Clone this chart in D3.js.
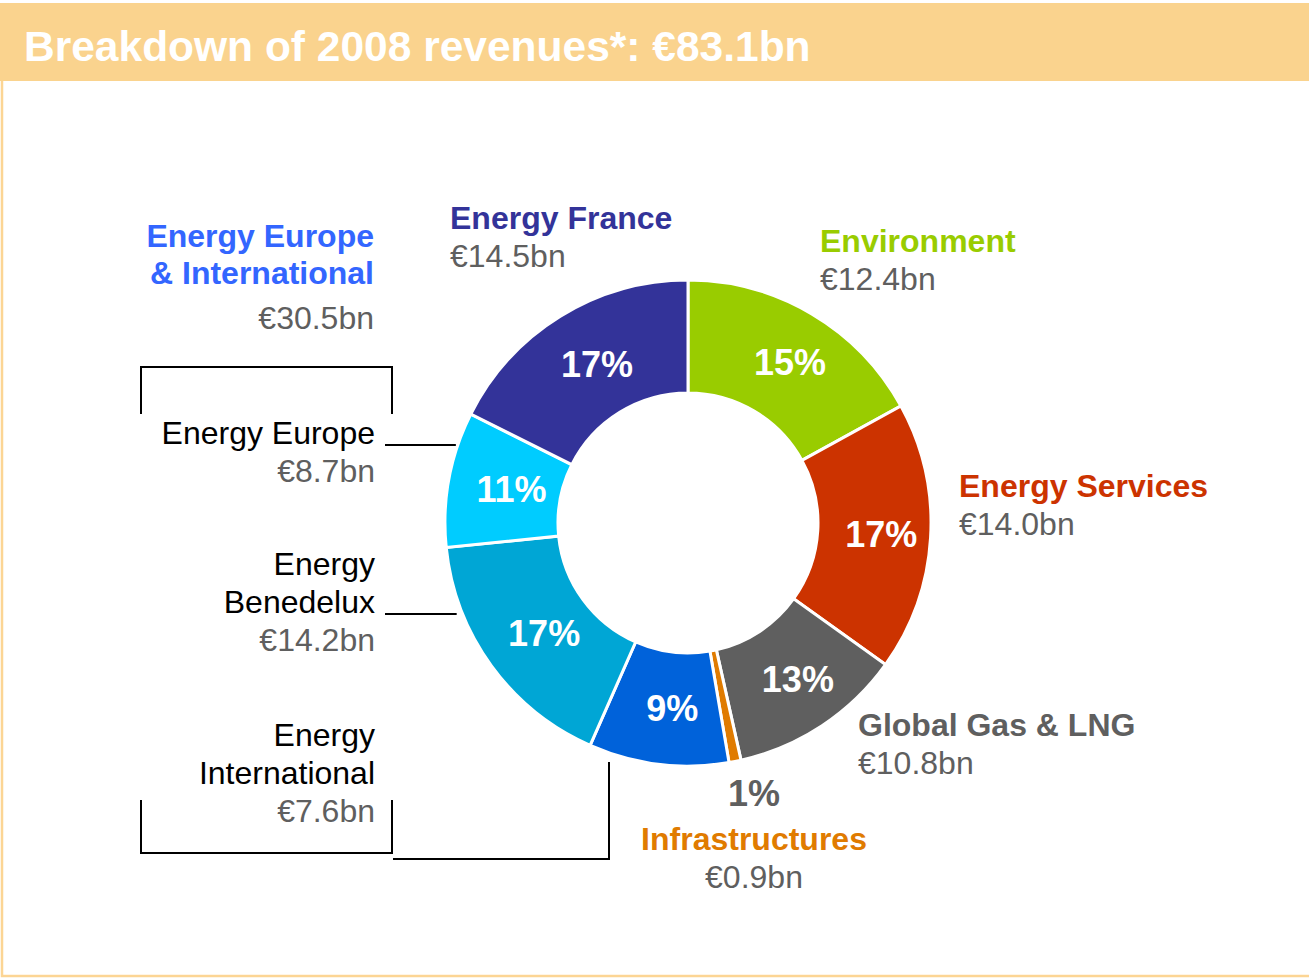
<!DOCTYPE html>
<html>
<head>
<meta charset="utf-8">
<script src="https://cdn.jsdelivr.net/npm/d3@7"></script>
<style>
body { margin: 0; background: #fff; }
text { font-family: "Liberation Sans", Arial, sans-serif; }
</style>
</head>
<body>
<div id="chart"></div>
<script>
//segments, clockwise from 12 o'clock
var segments = ["Environment", "Energy Services", "Global Gas & LNG", "Infrastructures",
                "Energy International", "Energy Benedelux", "Energy Europe", "Energy France"];
//revenues in €bn
var revenues = [12.4, 14.0, 10.8, 0.9, 7.6, 14.2, 8.7, 14.5];
//size of each slice in % of the ring
var shares = [17.0, 17.9, 11.6, 0.8, 9.3, 16.8, 9.0, 17.6];
//percent labels as printed on the chart
var pctLabels = ["15%", "17%", "13%", "1%", "9%", "17%", "11%", "17%"];
//Energy Europe & International is made of these three
var groupMembers = ["Energy Europe", "Energy Benedelux", "Energy International"];

var colors = ["#99cc00", "#cc3300", "#5f5f5f", "#e07b00", "#0062da", "#00a6d5", "#00ccff", "#333399"];
var gray = "#5f5f5f";

const width = 1309, height = 978;
const cx = 688, cy = 523, outerR = 243, innerR = 130;
const lineStep = 38;

var fmt = (v) => "€" + d3.format(".1f")(v) + "bn";
var total = d3.sum(revenues);
var groupTotal = d3.sum(groupMembers, (m) => revenues[segments.indexOf(m)]);

var svg = d3.select("#chart").append("svg")
    .attr("width", width)
    .attr("height", height);

//frame + title band
svg.append("rect").attr("x", 2).attr("y", 40).attr("width", width + 10).attr("height", 936)
    .attr("fill", "none").attr("stroke", "#fcd594").attr("stroke-width", 2.5);
svg.append("rect").attr("x", 0).attr("y", 3).attr("width", width).attr("height", 78)
    .attr("fill", "#fad38e");
svg.append("text").attr("x", 24).attr("y", 61)
    .attr("fill", "#fff").attr("font-weight", "bold").attr("font-size", 42.5)
    .text("Breakdown of 2008 revenues*: " + fmt(total));

//donut
const pie = d3.pie().sort(null).value((d) => d.share);
const arc = d3.arc().innerRadius(innerR).outerRadius(outerR);
var data = segments.map((s, i) => ({name: s, share: shares[i], pct: pctLabels[i], color: colors[i]}));
var arcs = pie(data);

const g = svg.append("g").attr("transform", `translate(${cx},${cy})`);

g.selectAll("path")
  .data(arcs)
  .join("path")
    .attr("d", arc)
    .attr("fill", (d) => d.data.color)
    .attr("stroke", "#fff")
    .attr("stroke-width", 3);

//percent labels inside the ring (small slices get theirs outside)
g.selectAll("text.pct")
  .data(arcs.filter((d) => d.data.share > 3))
  .join("text")
    .attr("class", "pct")
    .attr("x", (d) => arc.centroid(d)[0] + 7)
    .attr("y", (d) => arc.centroid(d)[1] + 13)
    .attr("text-anchor", "middle")
    .attr("fill", "#fff")
    .attr("font-weight", "bold")
    .attr("font-size", 36)
    .text((d) => d.data.pct);

//text blocks
function block(x, y, anchor, lines){
  var t = svg.append("text").attr("text-anchor", anchor).attr("font-size", 32);
  lines.forEach(function(l, k){
    t.append("tspan")
      .attr("x", x)
      .attr("y", y + (l.dy !== undefined ? l.dy : k * lineStep))
      .attr("fill", l.color)
      .attr("font-weight", l.bold ? "bold" : "normal")
      .attr("font-size", l.size || 32)
      .text(l.text);
  });
}

function idx(name){ return segments.indexOf(name); }

[["Environment", 820, 252], ["Energy Services", 959, 497], ["Global Gas & LNG", 858, 736], ["Energy France", 450, 229]]
  .forEach(function(a){
    var i = idx(a[0]);
    block(a[1], a[2], "start", [
      {text: segments[i], color: colors[i], bold: true},
      {text: fmt(revenues[i]), color: gray}
    ]);
  });

var inf = idx("Infrastructures");
block(754, 806, "middle", [
  {text: pctLabels[inf], color: gray, bold: true, size: 36, dy: 0},
  {text: segments[inf], color: colors[inf], bold: true, dy: 44},
  {text: fmt(revenues[inf]), color: gray, dy: 82}
]);

block(374, 247, "end", [
  {text: "Energy Europe", color: "#3366ff", bold: true, dy: 0},
  {text: "& International", color: "#3366ff", bold: true, dy: 37},
  {text: fmt(groupTotal), color: gray, dy: 82}
]);

block(375, 444, "end", [
  {text: "Energy Europe", color: "#000"},
  {text: fmt(revenues[idx("Energy Europe")]), color: gray}
]);
block(375, 575, "end", [
  {text: "Energy", color: "#000"},
  {text: "Benedelux", color: "#000"},
  {text: fmt(revenues[idx("Energy Benedelux")]), color: gray}
]);
block(375, 746, "end", [
  {text: "Energy", color: "#000"},
  {text: "International", color: "#000"},
  {text: fmt(revenues[idx("Energy International")]), color: gray}
]);

//leader lines and brackets
var edgeX = (y) => cx - Math.sqrt(outerR * outerR - (y - cy) * (y - cy));
var lines = svg.append("g").attr("fill", "none").attr("stroke", "#000").attr("stroke-width", 2);
lines.append("path").attr("d", `M385,445H${edgeX(445) - 2}`);
lines.append("path").attr("d", `M385,614H${edgeX(614) - 6}`);
lines.append("path").attr("d", "M141,414V367H392V414");
lines.append("path").attr("d", "M141,800V853H392V800");
lines.append("path").attr("d", "M393,859H609V762");
</script>
</body>
</html>
